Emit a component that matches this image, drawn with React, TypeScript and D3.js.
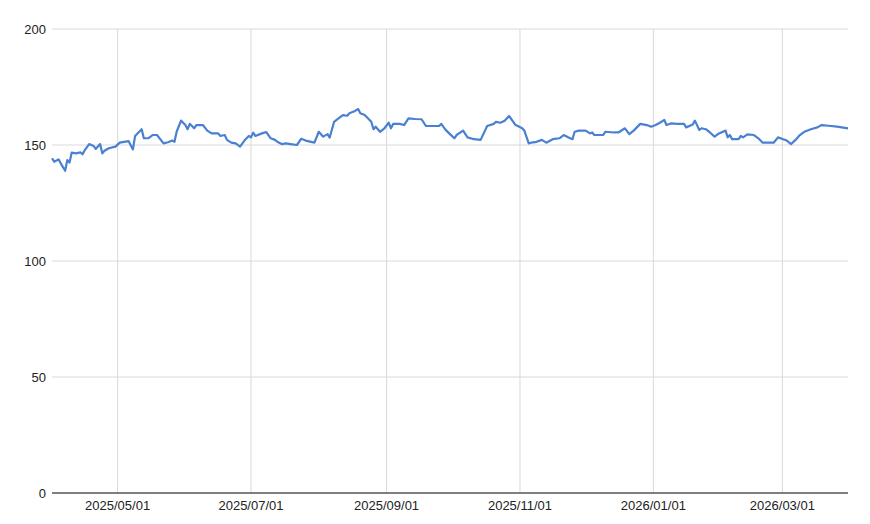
import React from "react";
import * as d3 from "d3";

const dates: string[] = [
  "2025-04-01","2025-04-02","2025-04-04","2025-04-05","2025-04-07","2025-04-08","2025-04-09","2025-04-10","2025-04-12","2025-04-14",
  "2025-04-15","2025-04-16","2025-04-18","2025-04-20","2025-04-21","2025-04-23","2025-04-24","2025-04-25","2025-04-27","2025-04-30",
  "2025-05-02","2025-05-06","2025-05-08","2025-05-09","2025-05-12","2025-05-13","2025-05-15","2025-05-17","2025-05-19","2025-05-22",
  "2025-05-24","2025-05-26","2025-05-27","2025-05-28","2025-05-30","2025-06-01","2025-06-02","2025-06-03","2025-06-04","2025-06-05",
  "2025-06-06","2025-06-09","2025-06-11","2025-06-13","2025-06-16","2025-06-17","2025-06-19","2025-06-20","2025-06-22","2025-06-24",
  "2025-06-26","2025-06-28","2025-06-30","2025-07-01","2025-07-02","2025-07-03","2025-07-06","2025-07-08","2025-07-10","2025-07-12",
  "2025-07-13","2025-07-15","2025-07-17","2025-07-19","2025-07-22","2025-07-24","2025-07-26","2025-07-30","2025-08-01","2025-08-03",
  "2025-08-05","2025-08-06","2025-08-08","2025-08-10","2025-08-12","2025-08-14","2025-08-15","2025-08-17","2025-08-19","2025-08-20",
  "2025-08-22","2025-08-24","2025-08-25","2025-08-26","2025-08-27","2025-08-29","2025-08-31","2025-09-02","2025-09-03","2025-09-04",
  "2025-09-07","2025-09-09","2025-09-11","2025-09-14","2025-09-17","2025-09-19","2025-09-22","2025-09-25","2025-09-26","2025-09-28",
  "2025-09-30","2025-10-02","2025-10-03","2025-10-06","2025-10-08","2025-10-11","2025-10-14","2025-10-17","2025-10-20","2025-10-21",
  "2025-10-23","2025-10-25","2025-10-27","2025-10-30","2025-10-31","2025-11-02","2025-11-03","2025-11-05","2025-11-06","2025-11-08",
  "2025-11-11","2025-11-13","2025-11-16","2025-11-19","2025-11-21","2025-11-23","2025-11-25","2025-11-26","2025-11-28","2025-12-01",
  "2025-12-03","2025-12-04","2025-12-05","2025-12-09","2025-12-10","2025-12-14","2025-12-16","2025-12-19","2025-12-21","2025-12-23",
  "2025-12-26","2025-12-29","2025-12-31","2026-01-02","2026-01-04","2026-01-06","2026-01-07","2026-01-09","2026-01-12","2026-01-15",
  "2026-01-16","2026-01-19","2026-01-20","2026-01-22","2026-01-23","2026-01-25","2026-01-27","2026-01-29","2026-01-31","2026-02-03",
  "2026-02-04","2026-02-05","2026-02-06","2026-02-09","2026-02-10","2026-02-11","2026-02-13","2026-02-16","2026-02-18","2026-02-20",
  "2026-02-22","2026-02-25","2026-02-27","2026-03-01","2026-03-03","2026-03-05","2026-03-07","2026-03-09","2026-03-11","2026-03-14",
  "2026-03-17","2026-03-19","2026-03-22","2026-03-26","2026-03-31",
];

const prices: number[] = [
  144.3,142.8,143.8,142.1,138.9,143.5,142.4,146.7,146.4,146.8,
  146.0,147.8,150.4,149.6,148.3,150.4,146.4,147.5,148.6,149.3,
  151.0,151.7,148.1,153.9,156.8,152.9,152.9,154.3,154.3,150.7,
  151.2,151.9,151.4,155.7,160.5,158.6,156.8,159.1,158.2,157.2,
  158.6,158.6,156.2,155.0,155.0,153.9,154.3,152.2,151.0,150.7,
  149.3,151.9,153.9,153.3,155.3,153.9,155.0,155.6,152.9,152.2,
  151.4,150.4,150.7,150.4,150.0,152.7,151.9,151.0,155.7,153.6,
  154.7,153.2,160.0,161.5,162.9,162.6,163.7,164.4,165.5,163.7,
  162.9,161.0,160.0,156.8,157.9,155.7,157.2,159.6,157.2,159.1,
  159.1,158.6,161.5,161.2,161.1,158.2,158.2,158.2,159.1,156.5,
  154.7,152.9,154.3,156.2,153.3,152.5,152.2,158.2,159.1,160.0,
  159.6,160.5,162.5,158.6,158.2,157.2,156.2,150.7,151.0,151.2,
  152.2,151.0,152.5,152.9,154.3,153.3,152.5,155.7,156.2,156.2,
  155.0,155.4,154.3,154.3,155.7,155.4,155.4,157.2,154.7,156.2,
  159.1,158.6,157.9,158.6,159.6,160.8,158.6,159.3,159.1,159.1,
  157.6,158.8,160.5,156.5,157.2,156.8,155.3,153.6,155.0,156.2,
  153.3,154.3,152.5,152.5,153.9,153.3,154.6,154.3,152.9,151.0,
  151.0,151.0,153.3,152.6,151.9,150.4,152.2,154.3,155.7,156.8,
  157.6,158.6,158.3,157.9,157.2,
];

const yTicks: number[] = [0, 50, 100, 150, 200];
const xTickDates: string[] = ["2025-05-01", "2025-07-01", "2025-09-01", "2025-11-01", "2026-01-01", "2026-03-01"];
const xTickLabels: string[] = ["2025/05/01", "2025/07/01", "2025/09/01", "2025/11/01", "2026/01/01", "2026/03/01"];

const W = 870;
const H = 524;
const LEFT = 52;
const RIGHT = 848;
const TOP = 29;
const BOTTOM = 493;
const FONT = "Arial, 'Liberation Sans', sans-serif";

export default function App() {
  const parse = d3.utcParse("%Y-%m-%d");
  const data = dates.map((d, i) => ({ date: parse(d) as Date, value: prices[i] }));

  const x = d3
    .scaleUtc()
    .domain(d3.extent(data, (d) => d.date) as [Date, Date])
    .range([LEFT, RIGHT]);
  const y = d3.scaleLinear().domain([0, 200]).range([BOTTOM, TOP]);

  const line = d3
    .line<{ date: Date; value: number }>()
    .x((d) => x(d.date))
    .y((d) => y(d.value));

  return (
    <svg
      width={W}
      height={H}
      style={{ position: "absolute", left: 0, top: 0, background: "#fff" }}
      fontFamily={FONT}
    >
      <rect x={0} y={0} width={W} height={H} fill="#fff" />
      {yTicks.map((t) => (
        <g key={"y" + t}>
          {t !== 0 && (
            <line x1={LEFT} x2={RIGHT} y1={y(t)} y2={y(t)} stroke="#d9d9d9" strokeWidth={1} />
          )}
          <text x={46} y={y(t)} dy="0.35em" textAnchor="end" fontSize={13} fill="#222">
            {t}
          </text>
        </g>
      ))}
      {xTickDates.map((d, i) => {
        const xx = x(parse(d) as Date);
        return (
          <g key={"x" + d}>
            <line x1={xx} x2={xx} y1={TOP} y2={BOTTOM} stroke="#d9d9d9" strokeWidth={1} />
            <text x={xx} y={510} textAnchor="middle" fontSize={13} fill="#222">
              {xTickLabels[i]}
            </text>
          </g>
        );
      })}
      <line x1={LEFT} x2={RIGHT} y1={y(0)} y2={y(0)} stroke="#555" strokeWidth={1.3} />
      <path d={line(data) || ""} fill="none" stroke="#4a80d2" strokeWidth={2.2} strokeLinejoin="round" />
    </svg>
  );
}
